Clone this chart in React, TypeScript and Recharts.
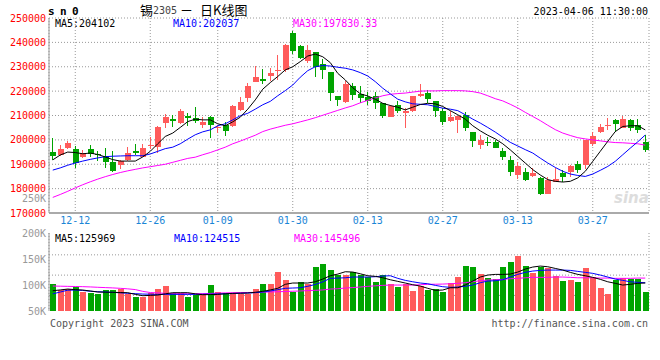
// 锡2305 daily K-line (sina style): candles + MA5/10/30 on top, volume + MAs below.
// Values; the volume scale follows the printed 50K..200K labels.

import { ComposedChart, Bar, Line, XAxis, YAxis, CartesianGrid } from "recharts";

const MONO = "'DejaVu Sans Mono', monospace";
const CJK = "'Noto Sans CJK SC', sans-serif";
const UP = "#ff5b5b";
const DOWN = "#00a400";
const GRID = "#999";
const FRAME = "#999";
const DATE_COLOR = "#1a86d6";

const DATES = [
  "12-07", "12-08", "12-09", "12-12", "12-13", "12-14", "12-15", "12-16", "12-19", "12-20",
  "12-21", "12-22", "12-23", "12-26", "12-27", "12-28", "12-29", "12-30", "01-03", "01-04",
  "01-05", "01-06", "01-09", "01-10", "01-11", "01-12", "01-13", "01-16", "01-17", "01-18",
  "01-19", "01-20", "01-30", "01-31", "02-01", "02-02", "02-03", "02-06", "02-07", "02-08",
  "02-09", "02-10", "02-13", "02-14", "02-15", "02-16", "02-17", "02-20", "02-21", "02-22",
  "02-23", "02-24", "02-27", "02-28", "03-01", "03-02", "03-03", "03-06", "03-07", "03-08",
  "03-09", "03-10", "03-13", "03-14", "03-15", "03-16", "03-17", "03-20", "03-21", "03-22",
  "03-23", "03-24", "03-27", "03-28", "03-29", "03-30", "03-31", "04-03", "04-04", "04-06",
];
const DATE_TICKS = ["12-12", "12-26", "01-09", "01-30", "02-13", "02-27", "03-13", "03-27"];
const PRICE_TICKS = [170000, 180000, 190000, 200000, 210000, 220000, 230000, 240000, 250000];
const VOL_TICKS = [50000, 100000, 150000, 200000];

const OPEN = [
  195000, 193800, 196500, 196400, 192800, 196100, 194200, 193500, 190800, 189500,
  191600, 195500, 193100, 197600, 196900, 206900, 208600, 206900, 210000, 209000,
  206200, 209400, 204700, 206000, 205800, 212300, 217000, 223900, 225000, 226000,
  228100, 228700, 243700, 238500, 232500, 235900, 231100, 228000, 218000, 215600,
  221900, 218900, 217500, 217800, 215300, 209300, 214200, 210900, 212000, 217800,
  219100, 215900, 211800, 207800, 208200, 210100, 203300, 198100, 199200, 199200,
  195500, 191600, 185400, 186900, 185000, 184500, 177900, 182700, 186300, 186700,
  190200, 189700, 198400, 203400, 206000, 208000, 204900, 208000, 206000, 199200,
];
const HIGH = [
  200900, 197900, 199600, 197300, 195700, 197900, 195500, 196500, 195500, 191800,
  196900, 198400, 198400, 201000, 205500, 210700, 210100, 212600, 211100, 213500,
  209300, 210000, 206300, 207400, 214400, 217400, 223500, 230300, 229100, 229600,
  235000, 239300, 244600, 238900, 238900, 236000, 233000, 228000, 218000, 224200,
  223500, 221900, 219700, 219700, 215300, 214500, 216100, 212900, 218000, 222900,
  220500, 216100, 213100, 211800, 209900, 211400, 203300, 201900, 201100, 199800,
  196800, 193500, 190800, 188600, 188300, 184800, 184800, 188300, 187800, 189700,
  191300, 200000, 203200, 206600, 208800, 208600, 209700, 208400, 208400, 201900,
];
const LOW = [
  191900, 193200, 196200, 188300, 192400, 192900, 191200, 188300, 186900, 188000,
  191200, 194000, 192900, 196200, 194600, 204800, 205200, 206600, 205500, 207100,
  204800, 200600, 203000, 201700, 205200, 212000, 215600, 223600, 222800, 224200,
  224600, 228000, 235200, 233300, 231400, 225700, 225000, 216000, 213700, 215300,
  216400, 215300, 214200, 212600, 208800, 209200, 210900, 204900, 211600, 217500,
  215300, 209200, 206300, 207500, 203000, 203600, 196900, 196100, 197300, 196500,
  191600, 185000, 183900, 183000, 184800, 177300, 177700, 182600, 182700, 184800,
  186400, 188000, 197300, 202800, 204100, 203200, 204800, 203700, 203000, 195100,
];
const CLOSE = [
  193200, 196400, 198800, 190500, 194600, 194300, 193600, 190800, 187100, 191200,
  194700, 194800, 196800, 198000, 205200, 209400, 207900, 212000, 208800, 207800,
  207400, 206300, 205100, 203600, 213700, 215700, 222100, 225800, 224200, 227600,
  228800, 238900, 236600, 233700, 236900, 229800, 228700, 219400, 216400, 222800,
  218400, 217200, 216100, 215300, 210000, 213700, 212000, 212000, 217800, 218900,
  216700, 212000, 207500, 209400, 209700, 204700, 199400, 199800, 198800, 196800,
  192800, 186800, 189100, 183700, 186400, 177700, 183700, 183900, 184600, 189100,
  187500, 199800, 201700, 205100, 206300, 206700, 208600, 204800, 203900, 195700,
];

const MA5 = [
  191800, 193800, 195000, 194800, 194300, 194600, 194000, 193000, 191900, 191300,
  191300, 191300, 193000, 195300, 198400, 201400, 202800, 205100, 207500, 208500,
  208200, 208200, 206600, 205800, 207400, 209300, 212600, 216400, 220800, 223500,
  226000, 228700, 230000, 232100, 234400, 235200, 234100, 231700, 227300, 224600,
  221400, 218900, 218000, 216700, 215000, 214100, 213400, 212300, 213400, 214500,
  215000, 214800, 213700, 212000, 210300, 208500, 205800, 203700, 201900, 200400,
  198400, 195900, 193200, 190500, 187800, 185600, 183700, 183000, 182700, 183000,
  184400, 187100, 191200, 195300, 199400, 203400, 205500, 205800, 205800, 204100,
];
const MA10 = [
  187600, 188500, 189600, 190500, 191300, 192000, 192600, 193100, 193300, 193400,
  193500, 193500, 193500, 194200, 195300, 196400, 197000, 198400, 200300, 202100,
  203300, 204100, 205800, 206600, 208200, 209900, 210900, 212600, 214400, 215800,
  218100, 220200, 222500, 225700, 228400, 230000, 230500, 230300, 229800, 229400,
  228700, 227600, 226200, 223900, 221200, 218900, 216700, 215600, 214800, 214600,
  214400, 213700, 213000, 212600, 212000, 210300, 208500, 206900, 205100, 203200,
  201100, 199000, 197500, 196000, 194600, 192500, 190500, 188700, 187100, 186000,
  185400, 185000, 186000, 187500, 189100, 191200, 193900, 196600, 199200, 202000,
];
const MA30 = [
  176400, 177600, 178900, 180300, 181600, 182800, 183900, 184900, 185800, 186600,
  187300, 187900, 188500, 189000, 189500, 190000, 190800, 191600, 192400, 192900,
  193900, 194800, 195900, 197000, 198400, 199500, 200700, 201900, 203400, 204400,
  205200, 206000, 206600, 207400, 208200, 209100, 210100, 211100, 212100, 213100,
  214000, 215200, 216200, 217200, 218100, 218700, 219000, 219200, 219600, 220000,
  220100, 220100, 220200, 220200, 220200, 220100, 219800, 219200, 218100, 216900,
  216000, 214600, 213100, 211300, 209600, 207900, 206000, 204200, 202800, 201800,
  200900, 200400, 200000, 199600, 199200, 198900, 198800, 198600, 198400, 197830,
];

const VOLUME = [
  101800, 91000, 92000, 96000, 87000, 84000, 82600, 90300, 90500, 92500,
  82000, 76000, 76000, 85000, 92000, 98000, 84000, 84000, 77500, 80700,
  82600, 99900, 86500, 85200, 85200, 82600, 82600, 92200, 101800, 101800,
  124900, 110100, 86500, 105100, 101800, 134500, 140200, 128700, 118500, 118500,
  124300, 118500, 115300, 105700, 118500, 101800, 95500, 101800, 89000, 98600,
  90300, 91600, 86500, 103200, 115900, 136400, 134500, 121000, 113900, 110900,
  134500, 144600, 155600, 136400, 123500, 135100, 133200, 117200, 107600, 109500,
  105700, 132500, 115900, 94700, 83200, 109500, 113300, 112000, 112000, 87100,
];
const VOL_MA5 = [
  89000, 90500, 92200, 91000, 90300, 88500, 86500, 86200, 85900, 85500,
  85200, 82000, 79400, 80000, 80700, 83000, 85200, 85200, 85200, 83000,
  81300, 81600, 82000, 83000, 84000, 84300, 84600, 86000, 87800, 90500,
  93600, 101300, 103800, 103800, 103800, 106200, 111400, 117800, 121000, 125500,
  124900, 121600, 117800, 116600, 113900, 110100, 107000, 103800, 100500, 98000,
  93600, 89700, 90300, 94700, 94700, 99900, 107600, 115300, 119100, 120400,
  120400, 121000, 124900, 130600, 134500, 136400, 135100, 131900, 128700, 124300,
  120400, 117800, 114700, 110900, 106200, 103200, 99900, 101300, 103200, 103800,
];
const VOL_MA10 = [
  83000, 86500, 90000, 90300, 89500, 88000, 87100, 86500, 85900, 85000,
  84000, 83300, 82600, 82300, 82000, 82000, 82000, 82000, 82000, 82000,
  82200, 82500, 82800, 83200, 83500, 84000, 84600, 85200, 86500, 88400,
  91000, 93600, 94200, 94700, 97500, 101000, 106000, 112800, 113300, 113900,
  115300, 115300, 115300, 115900, 117200, 117800, 112800, 108900, 106200, 103800,
  102400, 99300, 96700, 95500, 96100, 97400, 99900, 104400, 107600, 108200,
  110100, 115300, 120400, 124300, 126800, 128100, 128700, 128700, 128700, 128100,
  126200, 124300, 122400, 119100, 115300, 111400, 108900, 106200, 105100, 104400,
];
const VOL_MA30 = [
  98000, 97700, 97400, 97100, 96800, 96300, 95600, 95000, 94400, 93600,
  92600, 91200, 87800, 85500, 84800, 84000, 83300, 83200, 83200, 83200,
  83400, 83800, 84300, 84800, 85200, 85400, 85600, 85800, 86200, 86600,
  87000, 87500, 88000, 88500, 89200, 89800, 90500, 92200, 92800, 94200,
  95100, 96100, 97400, 98400, 99300, 99900, 99900, 99900, 99900, 100500,
  101300, 101500, 101800, 102400, 103200, 104400, 106200, 108200, 109500, 110100,
  110900, 112000, 112800, 113900, 114700, 114700, 114700, 115300, 115300, 114700,
  113900, 113900, 113900, 113300, 113300, 112800, 112800, 112800, 113300, 113300,
];

const PRICE_MA_TEXT = ["MA5:204102", "MA10:202037", "MA30:197830.33"];
const VOL_MA_TEXT = ["MA5:125969", "MA10:124515", "MA30:145496"];

const rows = DATES.map((date, i) => ({
  date,
  open: OPEN[i],
  high: HIGH[i],
  low: LOW[i],
  close: CLOSE[i],
  range: [LOW[i], HIGH[i]],
  up: CLOSE[i] >= OPEN[i],
  ma5: MA5[i],
  ma10: MA10[i],
  ma30: MA30[i],
  vol: VOLUME[i],
  vma5: VOL_MA5[i],
  vma10: VOL_MA10[i],
  vma30: VOL_MA30[i],
}));

// candle drawn inside the [low, high] range bar the library positions for us
function Candle(props: any) {
  const { x, y, width, height, payload } = props;
  if (x == null || !payload) return null;
  const { open, close, high, low, up } = payload;
  const k = height / (high - low || 1);
  const py = (v: number) => y + (high - v) * k;
  const bx = Math.round(x);
  const w = Math.round(width);
  const top = Math.round(py(Math.max(open, close)));
  const bottom = Math.round(py(Math.min(open, close)));
  const color = up ? UP : DOWN;
  const cx = bx + Math.floor(w / 2) - 0.5;
  return (
    <g>
      <line x1={cx} x2={cx} y1={Math.round(y)} y2={Math.round(y + height)} stroke={color} strokeWidth={1} />
      <rect x={bx} y={top} width={w} height={Math.max(1, bottom - top)} fill={color} />
    </g>
  );
}

function VolumeBar(props: any) {
  const { x, y, width, height, payload } = props;
  if (x == null || !payload) return null;
  const top = Math.round(y);
  return (
    <rect
      x={Math.round(x)}
      y={top}
      width={Math.round(width)}
      height={Math.round(y + height) - top}
      fill={payload.up ? UP : DOWN}
    />
  );
}

function Caption({ x, y, color = "#000", right = false, children, style }: any) {
  const pos = right ? { right: 660 - x } : { left: x };
  return (
    <div
      style={{
        position: "absolute",
        top: y - 6,
        ...pos,
        color,
        fontFamily: MONO,
        fontSize: 10,
        lineHeight: "12px",
        whiteSpace: "pre",
        ...style,
      }}
    >
      {children}
    </div>
  );
}

const lineProps = { dot: false, activeDot: false, strokeWidth: 1, isAnimationActive: false } as const;

export default function App() {
  return (
    <div style={{ position: "absolute", left: 0, top: 0, width: 660, height: 360, background: "#fff", overflow: "hidden" }}>
      <div style={{ position: "absolute", left: 0, top: 0 }}>
        <ComposedChart width={660} height={232} data={rows} margin={{ top: 18, right: 11, bottom: 0, left: 0 }}>
          <CartesianGrid stroke={GRID} strokeDasharray="1 2" />
          <XAxis
            dataKey="date"
            ticks={DATE_TICKS}
            interval={0}
            height={19}
            tickSize={0}
            tickMargin={4}
            tickLine={false}
            axisLine={{ stroke: "#aaa", strokeWidth: 2 }}
            tick={{ fill: DATE_COLOR, fontSize: 10, fontFamily: MONO }}
          />
          <XAxis xAxisId="top" orientation="top" dataKey="date" height={0} tick={false} tickLine={false} axisLine={{ stroke: FRAME }} />
          <YAxis
            type="number"
            domain={[170000, 250000]}
            ticks={PRICE_TICKS}
            interval={0}
            allowDataOverflow
            width={49}
            tickSize={0}
            tickMargin={3}
            tickLine={false}
            axisLine={{ stroke: FRAME }}
            tick={{ fill: "#f00", fontSize: 10, fontFamily: MONO }}
          />
          <YAxis yAxisId="right" orientation="right" type="number" domain={[170000, 250000]} width={0} tick={false} tickLine={false} axisLine={{ stroke: FRAME }} />
          <Bar dataKey="range" barSize={6} shape={<Candle />} isAnimationActive={false} />
          <Line dataKey="ma30" stroke="#f0f" {...lineProps} />
          <Line dataKey="ma10" stroke="#00f" {...lineProps} />
          <Line dataKey="ma5" stroke="#000" {...lineProps} />
        </ComposedChart>
      </div>

      <div style={{ position: "absolute", left: 0, top: 226 }}>
        <ComposedChart width={660} height={90} data={rows} margin={{ top: 7, right: 11, bottom: 5, left: 0 }}>
          <CartesianGrid
            stroke={GRID}
            strokeDasharray="1 2"
            horizontalCoordinatesGenerator={({ offset }: any) =>
              [0.28, 0.54, 0.8].map((f) => offset.top + offset.height * f)
            }
          />
          <XAxis dataKey="date" ticks={DATE_TICKS} interval={0} height={0} tick={false} tickLine={false} axisLine={false} />
          <XAxis xAxisId="top" orientation="top" dataKey="date" height={0} tick={false} tickLine={false} axisLine={{ stroke: FRAME }} />
          <YAxis
            type="number"
            domain={[50000, 200000]}
            ticks={VOL_TICKS}
            interval={0}
            allowDataOverflow
            width={49}
            tickSize={0}
            tickMargin={3}
            tickLine={false}
            axisLine={{ stroke: FRAME }}
            tickFormatter={(v: number) => `${v / 1000}K`}
            tick={{ fill: "#999", fontSize: 10, fontFamily: MONO }}
          />
          <YAxis yAxisId="right" orientation="right" type="number" domain={[50000, 200000]} width={0} tick={false} tickLine={false} axisLine={{ stroke: FRAME }} />
          <Bar dataKey="vol" barSize={6} shape={<VolumeBar />} isAnimationActive={false} />
          <Line dataKey="vma30" stroke="#f0f" {...lineProps} />
          <Line dataKey="vma10" stroke="#00f" {...lineProps} />
          <Line dataKey="vma5" stroke="#000" {...lineProps} />
        </ComposedChart>
      </div>

      {/* header */}
      <Caption x={48} y={12} style={{ fontSize: 11, fontWeight: "bold", letterSpacing: "5.4px" }}>sn0</Caption>
      <div style={{ position: "absolute", left: 140, top: 2, fontFamily: CJK, fontSize: 13, lineHeight: "16px" }}>锡</div>
      <Caption x={153} y={11} color="#444">2305</Caption>
      <div style={{ position: "absolute", left: 180, top: 2, fontFamily: CJK, fontSize: 13, lineHeight: "16px" }}>－</div>
      <div style={{ position: "absolute", left: 200, top: 2, fontFamily: CJK, fontSize: 13, lineHeight: "16px", whiteSpace: "pre" }}>
        日K线图
      </div>
      <Caption x={648} y={12} right>2023-04-06 11:30:00</Caption>

      {/* MA legends */}
      <Caption x={55} y={24} color="#000">{PRICE_MA_TEXT[0]}</Caption>
      <Caption x={173} y={24} color="#00f">{PRICE_MA_TEXT[1]}</Caption>
      <Caption x={293} y={24} color="#f0f">{PRICE_MA_TEXT[2]}</Caption>
      <Caption x={55} y={238.5} color="#000">{VOL_MA_TEXT[0]}</Caption>
      <Caption x={174} y={238.5} color="#00f">{VOL_MA_TEXT[1]}</Caption>
      <Caption x={294} y={238.5} color="#f0f">{VOL_MA_TEXT[2]}</Caption>

      <Caption x={46} y={199} color="#999" right>250K</Caption>
      <div
        style={{
          position: "absolute",
          left: 614,
          top: 190,
          fontFamily: "'DejaVu Sans', sans-serif",
          fontSize: 15,
          fontWeight: "bold",
          fontStyle: "italic",
          color: "#ddd",
          lineHeight: "16px",
        }}
      >
        sina
      </div>

      {/* footer */}
      <Caption x={50} y={324} color="#555">Copyright 2023 SINA.COM</Caption>
      <Caption x={648} y={324} color="#555" right>http://finance.sina.com.cn</Caption>
    </div>
  );
}
